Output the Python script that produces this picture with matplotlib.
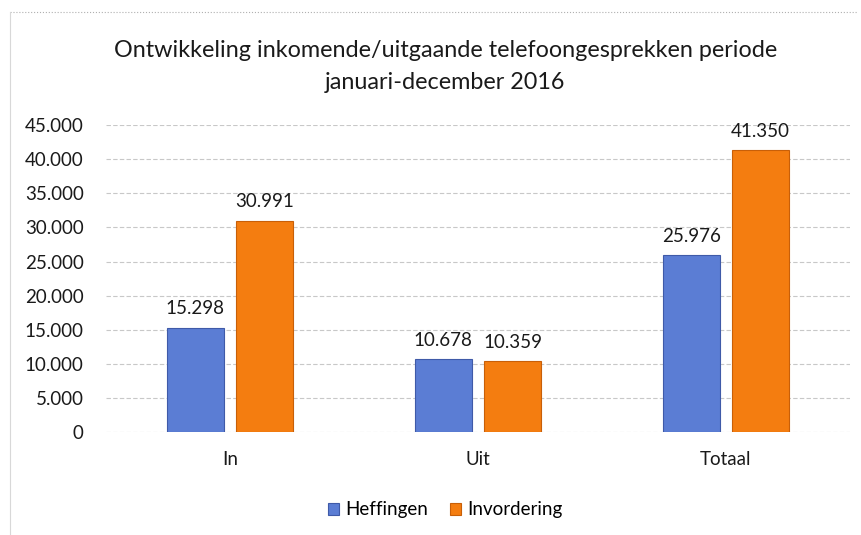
import matplotlib.pyplot as plt
import numpy as np
from matplotlib.ticker import FuncFormatter

categories = ["In", "Uit", "Totaal"]
heffingen = [15298, 10678, 25976]
invordering = [30991, 10359, 41350]
series = ["Heffingen", "Invordering"]

BLUE = "#5b7dd4"
ORANGE = "#f47d10"

plt.rcParams["font.family"] = ["Lato", "DejaVu Sans"]

fig = plt.figure(figsize=(8.61, 5.35), dpi=100)
ax = fig.add_axes([0.123, 0.1925, 0.864, 0.5735])

x = np.arange(len(categories))
w = 0.23
b1 = ax.bar(x - 0.14, heffingen, w, color=BLUE, edgecolor="#3f5aa8", linewidth=0.8, label=series[0])
b2 = ax.bar(x + 0.14, invordering, w, color=ORANGE, edgecolor="#c85f08", linewidth=0.8, label=series[1])

fmt = lambda v: f"{v:,.0f}".replace(",", ".")
for bars in (b1, b2):
    for r in bars:
        ax.text(r.get_x() + r.get_width() / 2, r.get_height() + 1500, fmt(r.get_height()),
                ha="center", va="bottom", fontsize=13.5, color="#1a1a1a")

ax.set_xlim(-0.5, 2.5)
ax.set_ylim(0, 45000)
ax.set_yticks(range(0, 45001, 5000))
ax.yaxis.set_major_formatter(FuncFormatter(lambda v, p: fmt(v)))
ax.set_xticks(x)
ax.set_xticklabels(categories)
ax.tick_params(axis="both", length=0, labelsize=13.5, colors="#1a1a1a")
ax.tick_params(axis="y", pad=16)
ax.tick_params(axis="x", pad=14)
ax.grid(axis="y", color="#c8c8c8", linestyle=(0, (4, 2)), linewidth=0.8)
ax.set_axisbelow(True)
for s in ax.spines.values():
    s.set_visible(False)

fig.text(0.517, 0.905, "Ontwikkeling inkomende/uitgaande telefoongesprekken periode",
         ha="center", va="center", fontsize=16.8, color="#1a1a1a")
fig.text(0.517, 0.846, "januari-december 2016", ha="center", va="center", fontsize=16.8, color="#1a1a1a")

fig.legend(loc="center", bbox_to_anchor=(0.517, 0.047), ncol=2, frameon=False, fontsize=13.5,
           handlelength=0.6, handleheight=0.6, handletextpad=0.3, columnspacing=1.2)

# light border of the chart area
fig.add_artist(plt.Line2D([0.012, 0.995], [0.977, 0.977], color="#b0b0b0", lw=0.8, linestyle=":"))
fig.add_artist(plt.Line2D([0.012, 0.012], [0.0, 0.977], color="#d8d8d8", lw=0.8))

fig.savefig("out.png", dpi=100)
